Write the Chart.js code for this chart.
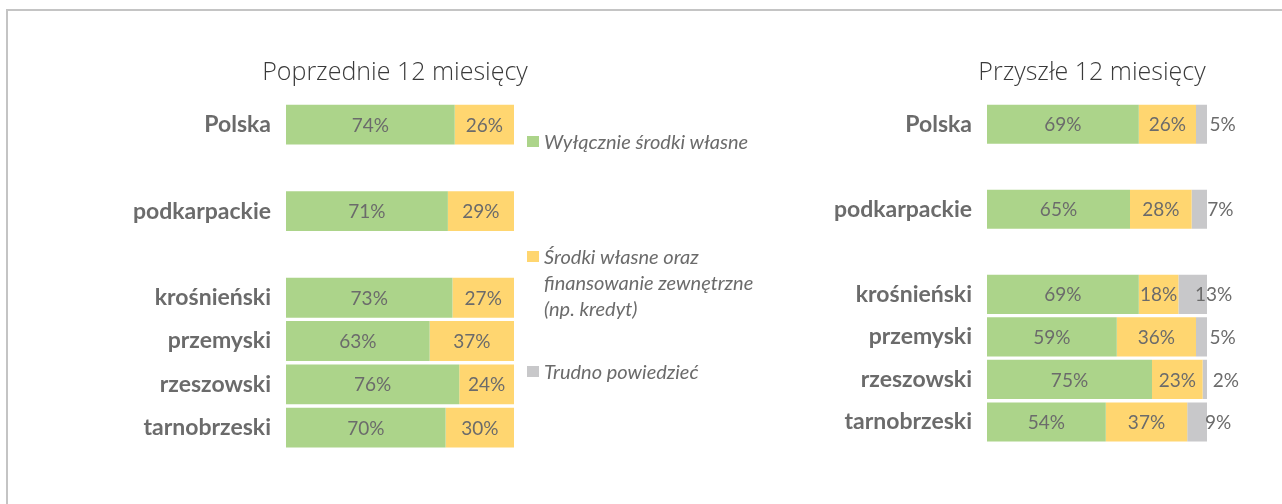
<!DOCTYPE html>
<html lang="pl">
<head>
<meta charset="utf-8">
<script src="https://cdn.jsdelivr.net/npm/chart.js@4.4.1/dist/chart.umd.min.js"></script>
<style>
  html, body { margin: 0; padding: 0; background: #fff; }
  body { width: 1282px; height: 504px; position: relative; overflow: hidden; font-family: Lato, 'Open Sans', sans-serif; }
  .frame { position: absolute; left: 6px; top: 9px; width: 1400px; height: 600px; border-top: 2px solid #c4c4c4; border-left: 2px solid #c4c4c4; }
  .box { position: absolute; }
  #legend { position: absolute; left: 527px; top: 0; }
  .item { position: absolute; left: 0; width: 270px; color: #6b6b6b; font-style: italic; font-size: 20px; line-height: 26px; }
  .item i { position: absolute; left: 0; top: 8px; width: 12px; height: 11px; }
  .item span { display: block; padding-left: 17px; }
</style>
</head>
<body>
<div class="frame"></div>
<div class="box" style="left:100px; top:42px; width:430px; height:436px;"><canvas id="prevChart"></canvas></div>
<div class="box" style="left:800px; top:42px; width:482px; height:430px;"><canvas id="nextChart"></canvas></div>
<div id="legend"></div>
<script>
// kategorie (puste pozycje = odstęp między grupami)
const categories = ['Polska', '', 'podkarpackie', '', 'krośnieński', 'przemyski', 'rzeszowski', 'tarnobrzeski'];
const seriesNames = ['Wyłącznie środki własne', 'Środki własne oraz finansowanie zewnętrzne (np. kredyt)', 'Trudno powiedzieć'];
const seriesColors = ['#acd48a', '#ffd670', '#c8c8ca'];

// Poprzednie 12 miesięcy
const prevOwn = [74, null, 71, null, 73, 63, 76, 70];
const prevMixed = [26, null, 29, null, 27, 37, 24, 30];
const prevHard = [null, null, null, null, null, null, null, null];

// Przyszłe 12 miesięcy
const nextOwn = [69, null, 65, null, 69, 59, 75, 54];
const nextMixed = [26, null, 28, null, 18, 36, 23, 37];
const nextHard = [5, null, 7, null, 13, 5, 2, 9];

const textGray = '#6b6b6b';

const valueLabels = {
  id: 'valueLabels',
  afterDatasetsDraw(chart) {
    const ctx = chart.ctx;
    ctx.save();
    ctx.font = '19px Lato, sans-serif';
    ctx.fillStyle = textGray;
    ctx.textAlign = 'center';
    ctx.textBaseline = 'middle';
    chart.data.datasets.forEach((ds, di) => {
      const meta = chart.getDatasetMeta(di);
      meta.data.forEach((bar, i) => {
        const v = ds.data[i];
        if (v == null) return;
        let x = (bar.x + bar.base) / 2;
        if (di === 2) x += 21; // etykiety "trudno powiedzieć" przesunięte na prawo
        ctx.fillText(v + '%', x, bar.y + 1);
      });
    });
    ctx.restore();
  }
};

// tytuł wyśrodkowany nad obszarem słupków (bez ściskania tekstu)
const panelTitle = {
  id: 'panelTitle',
  afterDraw(chart, args, opts) {
    const ctx = chart.ctx;
    const area = chart.chartArea;
    ctx.save();
    ctx.font = '300 ' + opts.size + "px 'Open Sans', sans-serif";
    ctx.fillStyle = '#3a3a3a';
    ctx.textAlign = 'center';
    ctx.textBaseline = 'middle';
    ctx.fillText(opts.text, (area.left + area.right) / 2 - 5, opts.y);
    ctx.restore();
  }
};

function makeChart(id, title, titleSize, own, mixed, hard, axisWidth, pad) {
  const data = [own, mixed, hard];
  return new Chart(document.getElementById(id), {
    type: 'bar',
    data: {
      labels: categories,
      datasets: data.map((d, i) => ({
        label: seriesNames[i],
        data: d,
        backgroundColor: seriesColors[i],
        borderWidth: 0,
        barPercentage: 0.92,
        categoryPercentage: 1
      }))
    },
    options: {
      indexAxis: 'y',
      responsive: true,
      maintainAspectRatio: false,
      animation: false,
      layout: { padding: pad },
      plugins: {
        legend: { display: false },
        tooltip: { enabled: false },
        title: { display: false },
        panelTitle: { text: title, size: titleSize, y: 31 }
      },
      scales: {
        x: { display: false, stacked: true, min: 0, max: 100 },
        y: {
          stacked: true,
          grid: { display: false, drawTicks: false },
          border: { display: false },
          ticks: { color: textGray, padding: 15, font: { family: 'Lato, sans-serif', size: 23, weight: 'bold' } },
          afterFit(scale) { scale.width = axisWidth; }
        }
      }
    },
    plugins: [valueLabels, panelTitle]
  });
}

makeChart('prevChart', 'Poprzednie 12 miesięcy', 25, prevOwn, prevMixed, prevHard, 186, { left: 0, right: 16, top: 61, bottom: 11 });
makeChart('nextChart', 'Przyszłe 12 miesięcy', 25, nextOwn, nextMixed, nextHard, 187, { left: 0, right: 75, top: 61, bottom: 18 });

// legenda
const legendTops = [128, 243, 358];
const legendLines = [['Wyłącznie środki własne'], ['Środki własne oraz', 'finansowanie zewnętrzne', '(np. kredyt)'], ['Trudno powiedzieć']];
const legend = document.getElementById('legend');
seriesNames.forEach((name, i) => {
  const el = document.createElement('div');
  el.className = 'item';
  el.style.top = legendTops[i] + 'px';
  el.innerHTML = '<i style="background:' + seriesColors[i] + '"></i>' +
    legendLines[i].map(t => '<span>' + t + '</span>').join('');
  legend.appendChild(el);
});
</script>
</body>
</html>
